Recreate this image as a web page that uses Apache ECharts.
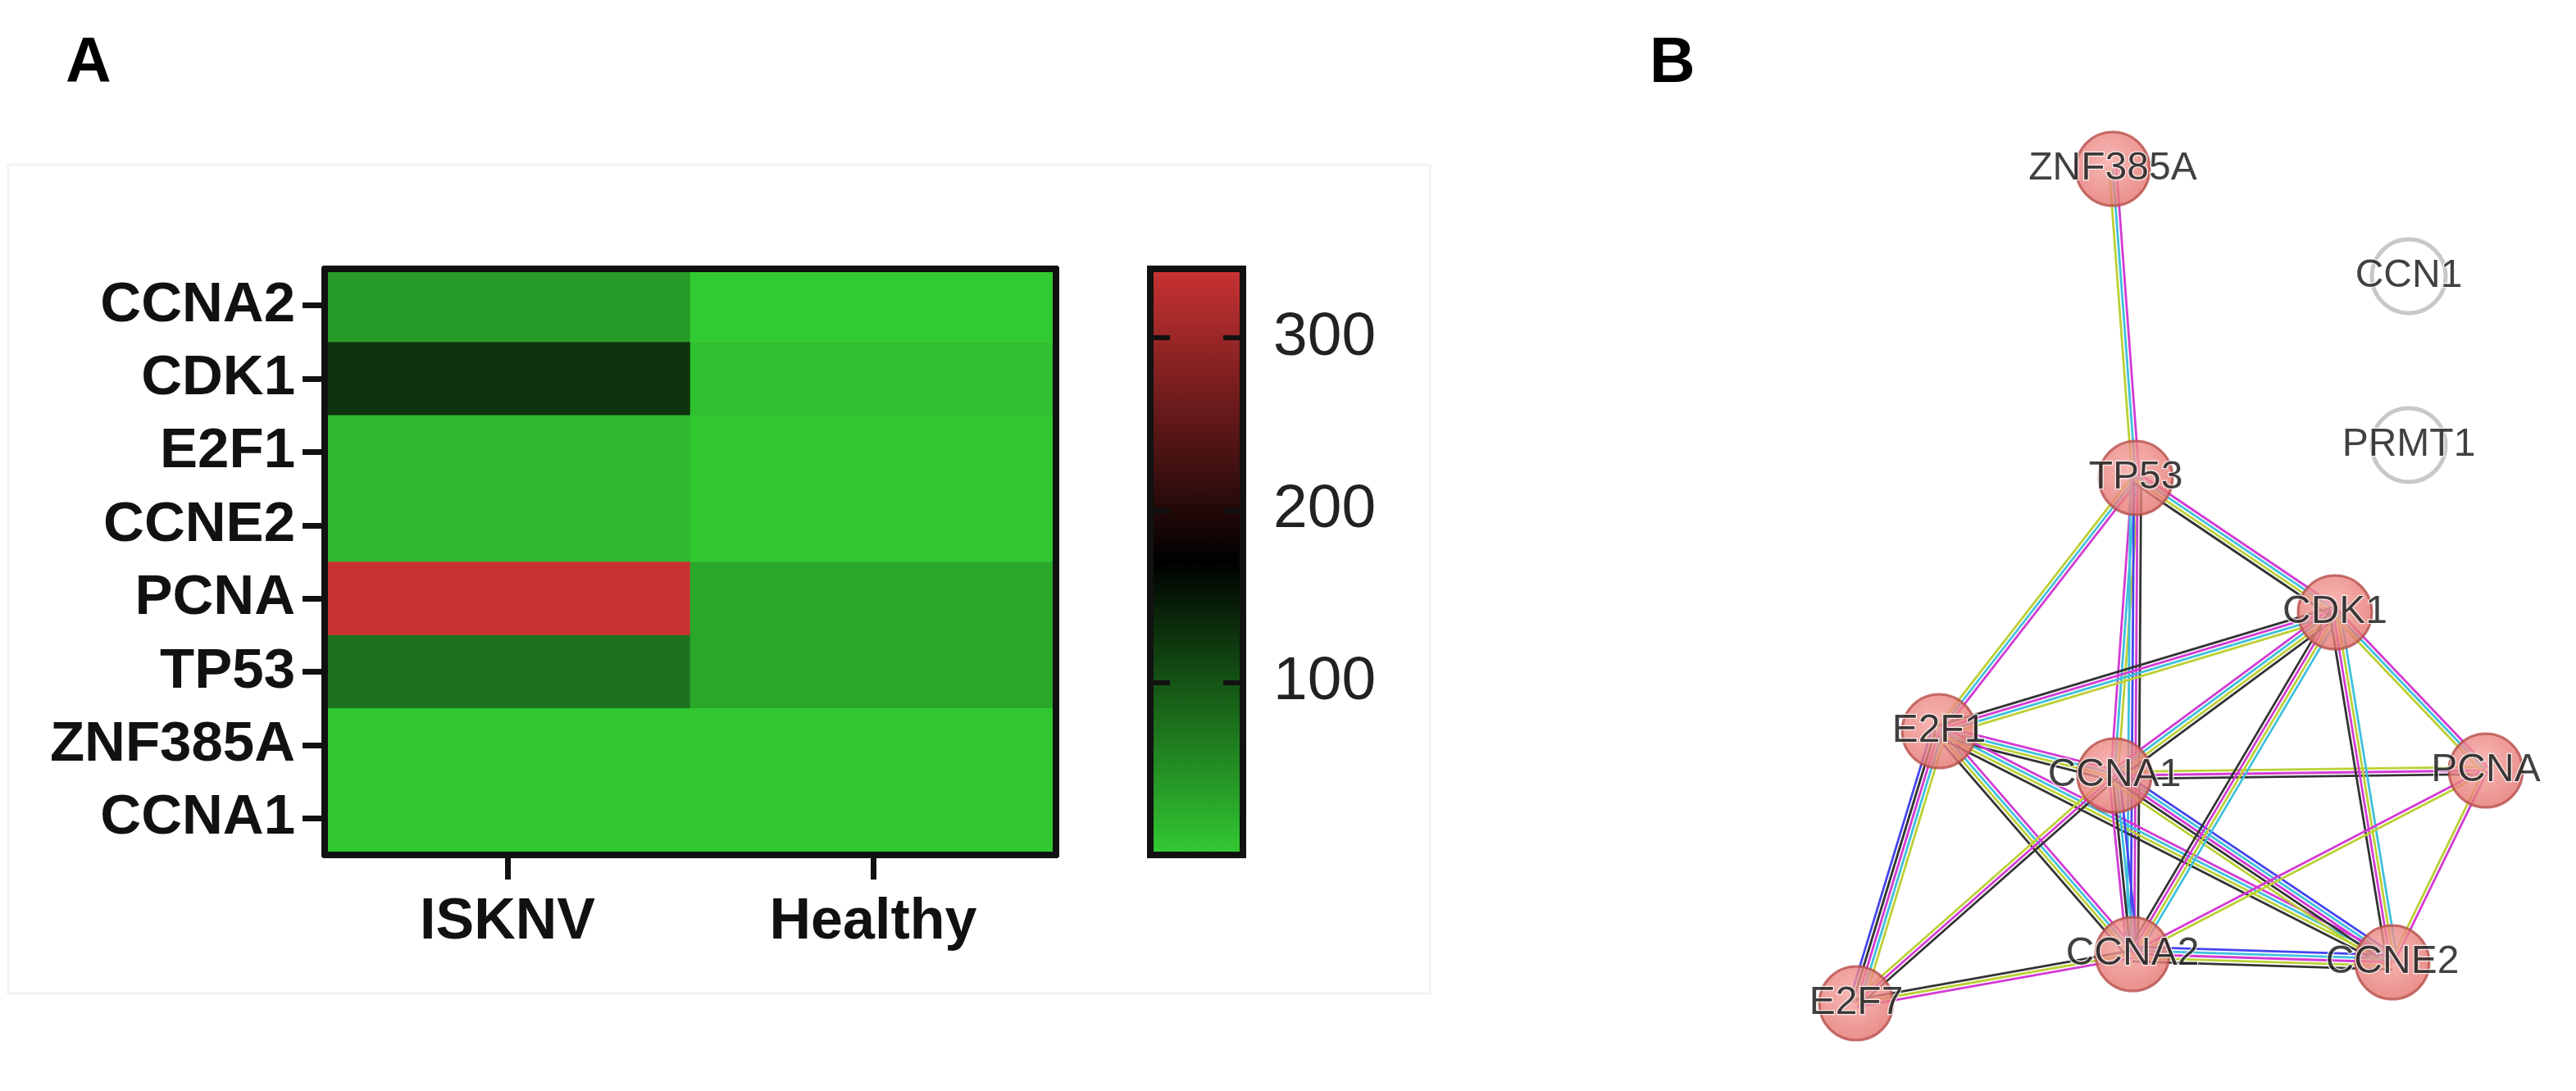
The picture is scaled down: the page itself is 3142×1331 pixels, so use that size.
<!DOCTYPE html>
<html>
<head>
<meta charset="utf-8">
<script src="https://cdn.jsdelivr.net/npm/echarts@6/dist/echarts.min.js"></script>
<style>
  html, body { margin: 0; padding: 0; background: #fff; }
  #chart { width: 3142px; height: 1331px; }
</style>
</head>
<body>
<div id="chart"></div>
<script>
// panel A: heatmap
const genes = ["CCNA2", "CDK1", "E2F1", "CCNE2", "PCNA", "TP53", "ZNF385A", "CCNA1"];
const groups = ["ISKNV", "Healthy"];
const isknvValues = [41, 128, 16, 16, 338, 74, 3, 3];
const healthyValues = [2, 9, 3, 3, 30, 30, 3, 3];
const scaleTicks = [100, 200, 300];
const scaleMin = 0;
const scaleMax = 340;

// panel B: network (layout units)
const nodeNames = ["ZNF385A", "CCN1", "PRMT1", "TP53", "CDK1", "E2F1", "CCNA1", "PCNA", "CCNA2", "CCNE2", "E2F7"];
const nodeX = [477, 838, 838, 505, 748, 265, 479, 932, 501, 818, 164];
const nodeY = [106, 237, 443, 483, 647, 792, 846, 840, 1064, 1074, 1124];
const edgeFrom = ["ZNF385A", "TP53", "TP53", "TP53", "TP53", "E2F1", "E2F1", "E2F1", "E2F1", "E2F1", "CCNA1", "CCNA1", "CCNA1", "CCNA1", "CCNA1", "CDK1", "CDK1", "CDK1", "PCNA", "PCNA", "CCNA2", "CCNA2"];
const edgeTo = ["TP53", "E2F1", "CCNA1", "CCNA2", "CDK1", "CDK1", "CCNA1", "CCNA2", "CCNE2", "E2F7", "CDK1", "PCNA", "CCNA2", "CCNE2", "E2F7", "CCNA2", "CCNE2", "PCNA", "CCNA2", "CCNE2", "CCNE2", "E2F7"];
const edgeEvidence = ["mcy", "mcy", "ycm", "kmbc", "mcyk", "kmcy", "mcyk", "mcyk", "mcyk", "ycmkb", "mcyk", "ymk", "bckm", "bcmky", "kmy", "cymk", "cymk", "mcy", "ym", "my", "bcmyk", "myk"];

const evidenceColors = { m: "#d33bd3", c: "#3fc0dc", y: "#bcd034", k: "#333333", b: "#4444ee" };
const scaleColors = ["#33cc33", "#000000", "#cc3333"];
const font = "Liberation Sans, Arial, sans-serif";

const heatData = [];
genes.forEach((g, i) => {
  heatData.push([0, i, isknvValues[i]]);
  heatData.push([1, i, healthyValues[i]]);
});

const linked = new Set(edgeFrom.concat(edgeTo));
const edgeData = edgeFrom.map((f, i) => {
  const a = nodeNames.indexOf(f);
  const b = nodeNames.indexOf(edgeTo[i]);
  return [nodeX[a], nodeY[a], nodeX[b], nodeY[b]];
});
const nodeData = nodeNames.map((n, i) => ({
  name: n,
  value: [nodeX[i], nodeY[i]],
  itemStyle: linked.has(n)
    ? {
        color: new echarts.graphic.RadialGradient(0.45, 0.4, 0.65, [
          { offset: 0, color: "#f6a6a2" },
          { offset: 1, color: "#e26e69" },
        ]),
        borderColor: "#b64f4b",
        borderWidth: 3,
      }
    : { color: "#ffffff", borderColor: "#bababa", borderWidth: 5 },
}));

const frameLine = { show: true, lineStyle: { color: "#111", width: 8 } };

let myChart = echarts.init(document.getElementById("chart"));
let option = {
  animation: false,
  backgroundColor: "#fff",
  graphic: [
    { type: "rect", shape: { x: 10, y: 201, width: 1734, height: 1011 }, style: { fill: "none", stroke: "#f2f2f2", lineWidth: 3 } },
    { type: "text", x: 80, y: 40, style: { text: "A", font: "bold 77px " + font, fill: "#000" } },
    { type: "text", x: 2012, y: 40, style: { text: "B", font: "bold 77px " + font, fill: "#000" } },
  ],
  grid: [
    { left: 396, top: 328, width: 892, height: 715 },
    {
      left: 1403, top: 328, width: 113, height: 715, show: true,
      borderColor: "#111", borderWidth: 8,
      backgroundColor: new echarts.graphic.LinearGradient(0, 1, 0, 0, [
        { offset: 0, color: scaleColors[0] },
        { offset: 0.5, color: scaleColors[1] },
        { offset: 1, color: scaleColors[2] },
      ]),
    },
    { left: 2100, top: 100, width: 1000, height: 1200 },
  ],
  xAxis: [
    {
      gridIndex: 0, type: "category", data: groups, position: "bottom", z: 5,
      axisLine: frameLine,
      axisTick: { show: true, alignWithLabel: true, interval: 0, length: 30, lineStyle: { color: "#111", width: 7 } },
      axisLabel: { interval: 0, margin: 48, fontSize: 70, fontWeight: "bold", color: "#111", fontFamily: font },
    },
    {
      gridIndex: 0, type: "category", data: groups, position: "top", z: 5,
      axisLine: frameLine, axisTick: { show: false }, axisLabel: { show: false },
    },
    { gridIndex: 1, type: "value", min: 0, max: 1, show: false },
    { gridIndex: 2, type: "value", min: 0, max: 1000, show: false },
  ],
  yAxis: [
    {
      gridIndex: 0, type: "category", data: genes, inverse: true, position: "left", z: 5,
      axisLine: frameLine,
      axisTick: { show: true, alignWithLabel: true, interval: 0, length: 27, lineStyle: { color: "#111", width: 7 } },
      axisLabel: { interval: 0, margin: 36, fontSize: 69, fontWeight: "bold", color: "#111", fontFamily: font },
    },
    {
      gridIndex: 0, type: "category", data: genes, inverse: true, position: "right", z: 5,
      axisLine: frameLine, axisTick: { show: false }, axisLabel: { show: false },
    },
    {
      gridIndex: 1, type: "value", min: scaleMin, max: scaleMax, interval: 100, position: "left",
      axisLine: { show: false }, splitLine: { show: false }, axisLabel: { show: false },
      axisTick: { show: true, inside: true, length: 24, lineStyle: { color: "#111", width: 6 } },
    },
    {
      gridIndex: 1, type: "value", min: scaleMin, max: scaleMax, interval: 100, position: "right",
      axisLine: { show: false }, splitLine: { show: false },
      axisTick: { show: true, inside: true, length: 24, lineStyle: { color: "#111", width: 6 } },
      axisLabel: {
        margin: 37, fontSize: 75, color: "#222", fontFamily: font,
        formatter: (v) => (scaleTicks.includes(v) ? String(v) : ""),
      },
    },
    { gridIndex: 2, type: "value", min: 0, max: 1200, inverse: true, show: false },
  ],
  visualMap: {
    type: "continuous",
    show: false,
    seriesIndex: 0,
    min: scaleMin,
    max: scaleMax,
    inRange: { color: scaleColors },
  },
  series: [
    {
      type: "heatmap",
      xAxisIndex: 0,
      yAxisIndex: 0,
      data: heatData,
    },
    {
      type: "custom",
      xAxisIndex: 3,
      yAxisIndex: 4,
      z: 1,
      encode: { x: [0, 2], y: [1, 3] },
      data: edgeData,
      renderItem: function (params, api) {
        const a = api.coord([api.value(0), api.value(1)]);
        const b = api.coord([api.value(2), api.value(3)]);
        const ev = edgeEvidence[params.dataIndex];
        const dx = b[0] - a[0];
        const dy = b[1] - a[1];
        const len = Math.hypot(dx, dy);
        const nx = -dy / len;
        const ny = dx / len;
        const gap = 4.4;
        return {
          type: "group",
          children: ev.split("").map((k, i) => {
            const off = (i - (ev.length - 1) / 2) * gap;
            return {
              type: "line",
              shape: { x1: a[0] + nx * off, y1: a[1] + ny * off, x2: b[0] + nx * off, y2: b[1] + ny * off },
              style: { stroke: evidenceColors[k], lineWidth: 2.8 },
            };
          }),
        };
      },
    },
    {
      type: "scatter",
      xAxisIndex: 3,
      yAxisIndex: 4,
      z: 3,
      symbolSize: 90,
      data: nodeData,
      label: {
        show: true,
        position: "inside",
        formatter: "{b}",
        fontSize: 48,
        color: "#111",
        fontFamily: font,
        textBorderColor: "#fff",
        textBorderWidth: 2.5,
      },
    },
  ],
};

myChart.setOption(option);
</script>
</body>
</html>
